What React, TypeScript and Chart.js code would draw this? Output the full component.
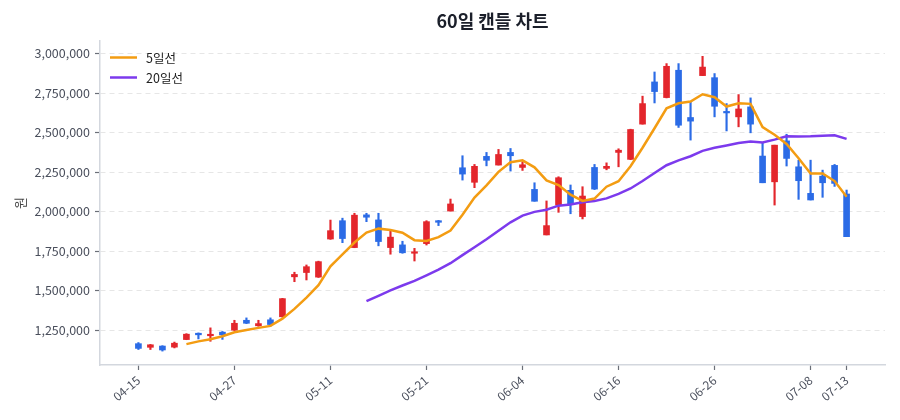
import { useEffect, useRef } from "react";
import { Chart, registerables } from "chart.js";

Chart.register(...registerables);

// Trading days (MM-DD)
const dates = [
  "04-15", "04-16", "04-17", "04-20", "04-21", "04-22", "04-23", "04-24", "04-27", "04-28",
  "04-29", "04-30", "05-04", "05-06", "05-07", "05-08", "05-11", "05-12", "05-13", "05-14",
  "05-15", "05-18", "05-19", "05-20", "05-21", "05-22", "05-26", "05-27", "05-28", "05-29",
  "06-01", "06-02", "06-04", "06-05", "06-08", "06-09", "06-10", "06-11", "06-12", "06-15",
  "06-16", "06-17", "06-18", "06-19", "06-22", "06-23", "06-24", "06-25", "06-26", "06-29",
  "06-30", "07-01", "07-02", "07-03", "07-06", "07-07", "07-08", "07-09", "07-10", "07-13",
];

const opens = [
  1165000, 1142000, 1150000, 1143000, 1191000, 1231000, 1215000, 1238000, 1250000, 1313000,
  1278000, 1316000, 1335000, 1588000, 1615000, 1586000, 1827000, 1943000, 1773000, 1980000,
  1948000, 1773000, 1790000, 1737000, 1798000, 1943000, 2004000, 2278000, 2186000, 2350000,
  2295000, 2375000, 2280000, 2141000, 1853000, 2042000, 2135000, 1969000, 2280000, 2274000,
  2375000, 2331000, 2554000, 2821000, 2722000, 2895000, 2596000, 2861000, 2848000, 2634000,
  2600000, 2663000, 2352000, 2189000, 2448000, 2284000, 2116000, 2225000, 2293000, 2112000,
];

const highs = [
  1172000, 1160000, 1152000, 1175000, 1228000, 1233000, 1265000, 1242000, 1313000, 1328000,
  1313000, 1328000, 1452000, 1617000, 1663000, 1687000, 1947000, 1959000, 1990000, 1990000,
  1990000, 1881000, 1813000, 1768000, 1943000, 1945000, 2080000, 2354000, 2299000, 2375000,
  2394000, 2400000, 2316000, 2183000, 2068000, 2221000, 2169000, 2158000, 2299000, 2309000,
  2398000, 2522000, 2731000, 2884000, 2937000, 2937000, 2694000, 2983000, 2874000, 2684000,
  2741000, 2720000, 2436000, 2421000, 2490000, 2326000, 2326000, 2263000, 2299000, 2137000,
];

const lows = [
  1128000, 1128000, 1118000, 1138000, 1190000, 1195000, 1180000, 1192000, 1248000, 1292000,
  1275000, 1276000, 1333000, 1557000, 1568000, 1584000, 1825000, 1804000, 1772000, 1937000,
  1784000, 1731000, 1737000, 1688000, 1789000, 1912000, 2004000, 2200000, 2152000, 2290000,
  2295000, 2257000, 2261000, 2066000, 1853000, 1996000, 1987000, 1954000, 2140000, 2265000,
  2284000, 2329000, 2554000, 2688000, 2720000, 2533000, 2453000, 2861000, 2600000, 2511000,
  2537000, 2499000, 2183000, 2042000, 2289000, 2078000, 2074000, 2091000, 2160000, 1842000,
];

const closes = [
  1135000, 1158000, 1125000, 1168000, 1225000, 1221000, 1224000, 1221000, 1294000, 1294000,
  1292000, 1286000, 1450000, 1603000, 1652000, 1684000, 1880000, 1830000, 1978000, 1965000,
  1811000, 1839000, 1740000, 1744000, 1937000, 1933000, 2049000, 2238000, 2287000, 2325000,
  2362000, 2354000, 2297000, 2066000, 1912000, 2215000, 2047000, 2099000, 2143000, 2287000,
  2389000, 2520000, 2684000, 2760000, 2920000, 2547000, 2573000, 2915000, 2667000, 2625000,
  2650000, 2554000, 2183000, 2421000, 2337000, 2196000, 2074000, 2183000, 2179000, 1842000,
];

// 5-day moving average (first 4 days have none)
const ma5 = [
  null, null, null, null, 1162200, 1179400, 1192600, 1211800, 1237000, 1250800,
  1265000, 1277400, 1323200, 1385000, 1456600, 1535000, 1653800, 1729800, 1804800, 1867400,
  1892800, 1884600, 1866600, 1819800, 1814200, 1838600, 1880600, 1980200, 2088800, 2166400,
  2252200, 2313200, 2325000, 2280800, 2198200, 2168800, 2107400, 2067800, 2083200, 2158200,
  2193000, 2287600, 2404600, 2528000, 2654600, 2686200, 2696800, 2743000, 2724400, 2665400,
  2686000, 2682200, 2535800, 2486600, 2429000, 2338200, 2242200, 2242200, 2193800, 2094800,
];

// 20-day moving average (first 19 days have none)
const ma20 = [
  null, null, null, null, null, null, null, null, null, null,
  null, null, null, null, null, null, null, null, null, 1434000,
  1468000, 1502000, 1533000, 1562000, 1597000, 1633000, 1674000, 1725000, 1775000, 1826000,
  1880000, 1933000, 1975000, 1999000, 2012000, 2038000, 2046000, 2060000, 2068000, 2084000,
  2113000, 2147000, 2194000, 2245000, 2294000, 2325000, 2351000, 2385000, 2404000, 2419000,
  2434000, 2444000, 2438000, 2456000, 2477000, 2476000, 2477000, 2481000, 2483000, 2461000,
];

const xTickIndexes = [0, 8, 16, 24, 32, 40, 48, 56, 59];
const yTickValues = [1250000, 1500000, 1750000, 2000000, 2250000, 2500000, 2750000, 3000000];

const FONT = "'Noto Sans CJK KR', 'Noto Sans', sans-serif";
const RED = "#e3262c";
const BLUE = "#2b6be6";
const ORANGE = "#f39c12";
const PURPLE = "#7c3aed";

// Draws the moving-average key inside the top-left of the plot area
const maLegend = {
  id: "maLegend",
  afterDatasetsDraw(chart: any) {
    const { ctx, chartArea } = chart;
    const lines = chart.data.datasets.filter((d: any) => d.type === "line");
    ctx.save();
    lines.forEach((d: any, k: number) => {
      const y = chartArea.top + 16.5 + k * 20;
      const x0 = chartArea.left + 10;
      ctx.strokeStyle = d.borderColor;
      ctx.lineWidth = 2.5;
      ctx.beginPath();
      ctx.moveTo(x0, y);
      ctx.lineTo(x0 + 27, y);
      ctx.stroke();
      ctx.fillStyle = "#222";
      ctx.font = `12.5px ${FONT}`;
      ctx.textBaseline = "middle";
      ctx.textAlign = "left";
      ctx.fillText(d.label, x0 + 36, y + 0.5);
    });
    ctx.restore();
  },
};

export default function App() {
  const canvasRef = useRef<HTMLCanvasElement>(null);

  useEffect(() => {
    const canvas = canvasRef.current;
    if (!canvas) return;
    const candleColors = dates.map((_, i) => (closes[i] >= opens[i] ? RED : BLUE));
    const toPoints = (arr: (number | null)[]) =>
      arr.map((v, i) => ({ x: i, y: v })).filter((p) => p.y !== null);

    const chart = new Chart(canvas, {
      type: "bar",
      data: {
        datasets: [
          {
            type: "line",
            label: "5일선",
            data: toPoints(ma5) as any,
            borderColor: ORANGE,
            backgroundColor: ORANGE,
            borderWidth: 2.5,
            pointRadius: 0,
            tension: 0,
            order: 0,
          },
          {
            type: "line",
            label: "20일선",
            data: toPoints(ma20) as any,
            borderColor: PURPLE,
            backgroundColor: PURPLE,
            borderWidth: 2.5,
            pointRadius: 0,
            tension: 0,
            order: 0,
          },
          {
            type: "bar",
            label: "body",
            data: dates.map((_, i) => ({ x: i, y: [opens[i], closes[i]] })) as any,
            backgroundColor: candleColors,
            barThickness: 6,
            minBarLength: 1.5,
            grouped: false,
            borderSkipped: false,
            borderWidth: 0,
            order: 1,
          },
          {
            type: "bar",
            label: "wick",
            data: dates.map((_, i) => ({ x: i, y: [lows[i], highs[i]] })) as any,
            backgroundColor: candleColors,
            barThickness: 1.5,
            grouped: false,
            borderSkipped: false,
            borderWidth: 0,
            order: 2,
          },
        ],
      },
      options: {
        responsive: false,
        animation: false,
        layout: { padding: { left: 0, right: 15, top: 0, bottom: 0 } },
        plugins: {
          legend: { display: false },
          tooltip: { enabled: false },
          title: {
            display: true,
            text: "60일 캔들 차트",
            fullSize: false,
            color: "#1b1f2a",
            font: { family: FONT, size: 18, weight: "bold" },
            padding: { top: 10, bottom: 9.4 },
          },
        },
        scales: {
          x: {
            type: "linear",
            min: -3.2,
            max: 62.2,
            offset: false,
            afterBuildTicks: (scale: any) => {
              scale.ticks = xTickIndexes.map((v) => ({ value: v }));
            },
            afterFit: (scale: any) => {
              scale.height = 55;
            },
            grid: {
              offset: false,
              drawOnChartArea: false,
              drawTicks: true,
              tickLength: 5,
              tickColor: "#6b6f78",
              tickWidth: 1.2,
              tickBorderDash: [],
            },
            border: { display: true, color: "#d3d7de", width: 1.5 },
            ticks: {
              autoSkip: false,
              minRotation: 40,
              maxRotation: 40,
              padding: 3,
              color: "#4a4f5c",
              font: { family: FONT, size: 12 },
              callback: (v: any) => dates[Number(v)] ?? "",
            },
          },
          y: {
            min: 1030000,
            max: 3080000,
            afterBuildTicks: (scale: any) => {
              scale.ticks = yTickValues.map((v) => ({ value: v }));
            },
            afterFit: (scale: any) => {
              scale.width = 100;
            },
            grid: {
              color: "#e6e6e6",
              lineWidth: 1,
              drawTicks: true,
              tickLength: 5,
              tickColor: "#6b6f78",
              tickWidth: 1.2,
              tickBorderDash: [],
            },
            border: { display: true, color: "#d3d7de", width: 1.5, dash: [5, 4] },
            ticks: {
              padding: 5,
              color: "#4a4f5c",
              font: { family: FONT, size: 12.5 },
              callback: (v: any) => Number(v).toLocaleString("en-US"),
            },
            title: {
              display: true,
              text: "원",
              color: "#444",
              font: { family: FONT, size: 13 },
              padding: { top: 12, bottom: 0 },
            },
          },
        },
      },
      plugins: [maLegend],
    });

    return () => chart.destroy();
  }, []);

  return (
    <div style={{ position: "fixed", left: 0, top: 0, width: 900, height: 420, background: "#fff" }}>
      <canvas ref={canvasRef} width={900} height={420} style={{ display: "block" }} />
    </div>
  );
}
